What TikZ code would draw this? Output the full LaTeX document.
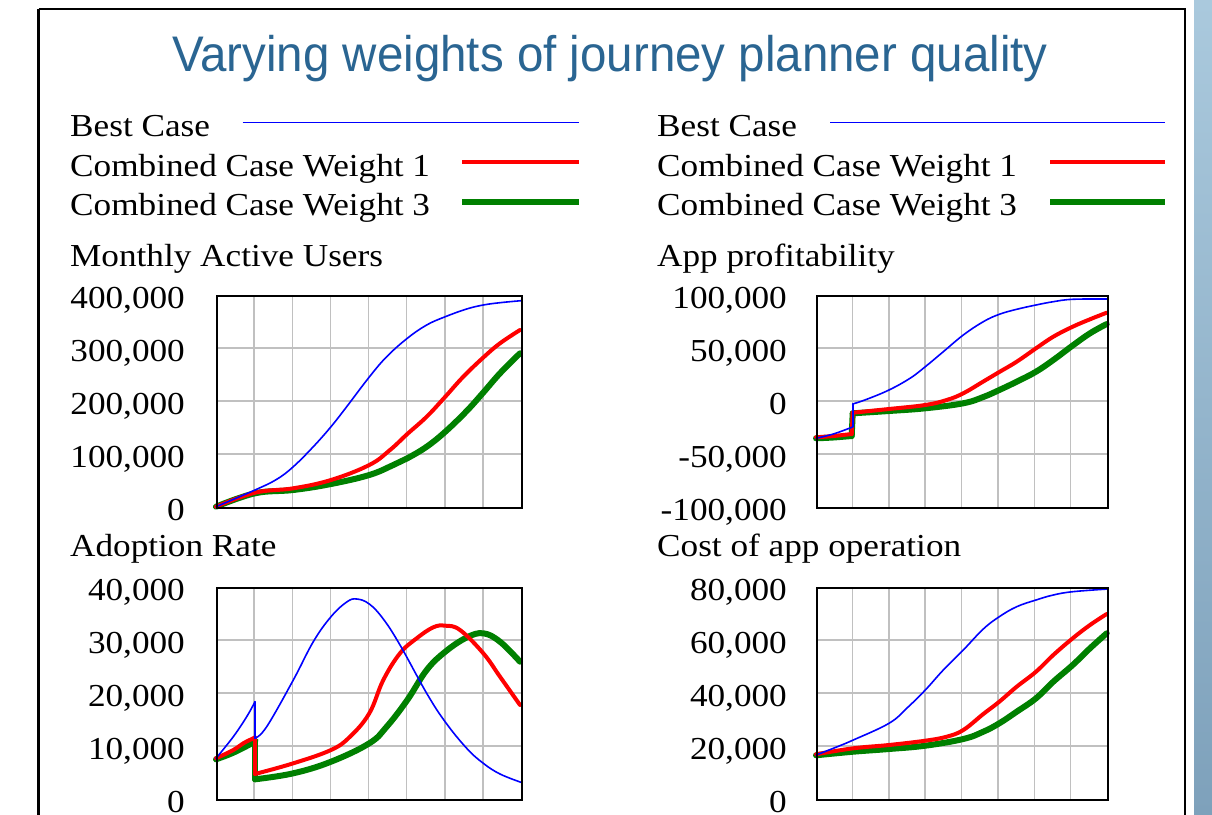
\documentclass[tikz,border=0pt]{standalone}
\usepackage{fontspec}
\setmainfont{Liberation Serif}[FakeStretch=1.1]
\newfontfamily\titlefont{Liberation Sans}[FakeStretch=0.95]
\definecolor{titleblue}{RGB}{42,101,146}
\definecolor{gridgray}{RGB}{192,192,192}
\definecolor{cgreen}{RGB}{0,128,0}
\definecolor{cblue}{RGB}{0,0,255}
\definecolor{cred}{RGB}{255,0,0}
\definecolor{bartop}{RGB}{170,201,221}
\definecolor{barbot}{RGB}{126,161,187}
\begin{document}
\begin{tikzpicture}[x=1bp,y=-1bp,
  lbl/.style={font=\fontsize{32bp}{38bp}\selectfont, inner sep=0pt, anchor=base west},
  ticklbl/.style={font=\fontsize{32bp}{38bp}\selectfont, inner sep=0pt, anchor=base east},
  gridln/.style={draw=gridgray, line width=1.5bp},
  pframe/.style={draw=black, line width=1.6bp},
  bestc/.style={draw=cblue, line width=1.6bp, line join=round, line cap=round},
  wonec/.style={draw=cred, line width=4bp, line join=round, line cap=round},
  wthreec/.style={draw=cgreen, line width=6bp, line join=round, line cap=round},
  sm/.style={smooth, tension=0.65}]
\useasboundingbox (0,0) rectangle (1212,815);
\fill[white] (0,0) rectangle (1212,815);
\shade[top color=bartop, bottom color=barbot] (1194,0) rectangle (1212,815);
\draw[line width=2.5bp] (38.5,9) -- (1185,9) -- (1185,830);
\draw[line width=2.5bp] (38.5,9) -- (38.5,830);

% title
\node[font=\titlefont\fontsize{50bp}{60bp}\selectfont, text=titleblue, inner sep=0pt, anchor=base] (title) at (610,72) {Varying weights of journey planner quality};

% legends
\foreach \lx/\nm in {70/L, 657/R}{
  \node[lbl] (best\nm) at (\lx,136) {Best Case};
  \node[lbl] (wone\nm) at (\lx,176) {Combined Case Weight 1};
  \node[lbl] (wthree\nm) at (\lx,215) {Combined Case Weight 3};
}
\coordinate (bLs) at (242.5,122.6); \coordinate (bLe) at (579,122.6);
\coordinate (rLs) at (462,162); \coordinate (rLe) at (579,162);
\coordinate (gLs) at (462,202); \coordinate (gLe) at (579,202);
\coordinate (bRs) at (830,122.6); \coordinate (bRe) at (1165,122.6);
\coordinate (rRs) at (1050,162); \coordinate (rRe) at (1165,162);
\coordinate (gRs) at (1050,202); \coordinate (gRe) at (1165,202);
\draw[bestc, line cap=butt] (bLs) -- (bLe);
\draw[wonec, line cap=butt] (rLs) -- (rLe);
\draw[wthreec, line cap=butt] (gLs) -- (gLe);
\draw[bestc, line cap=butt] (bRs) -- (bRe);
\draw[wonec, line cap=butt] (rRs) -- (rRe);
\draw[wthreec, line cap=butt] (gRs) -- (gRe);

% panel titles
\node[lbl] (mau) at (70,266) {Monthly Active Users};
\node[lbl] (prof) at (657,266) {App profitability};
\node[lbl] (adopt) at (70,556) {Adoption Rate};
\node[lbl] (cost) at (657,556) {Cost of app operation};

% tick labels
\node[ticklbl] (t1a) at (185,308) {400,000};
\node[ticklbl] (t1b) at (185,361) {300,000};
\node[ticklbl] (t1c) at (185,414) {200,000};
\node[ticklbl] (t1d) at (185,467) {100,000};
\node[ticklbl] (t1e) at (185,520) {0};
\node[ticklbl] (t2a) at (787,308) {100,000};
\node[ticklbl] (t2b) at (787,361) {50,000};
\node[ticklbl] (t2c) at (787,414) {0};
\node[ticklbl] (t2d) at (787,467) {-50,000};
\node[ticklbl] (t2e) at (787,520) {-100,000};
\node[ticklbl] (t3a) at (185,600) {40,000};
\node[ticklbl] (t3b) at (185,653) {30,000};
\node[ticklbl] (t3c) at (185,706) {20,000};
\node[ticklbl] (t3d) at (185,759) {10,000};
\node[ticklbl] (t3e) at (185,812) {0};
\node[ticklbl] (t4a) at (787,600) {80,000};
\node[ticklbl] (t4b) at (787,653) {60,000};
\node[ticklbl] (t4c) at (787,706) {40,000};
\node[ticklbl] (t4d) at (787,759) {20,000};
\node[ticklbl] (t4e) at (787,812) {0};

% grids
\foreach \top in {295,587}{
  \foreach \i in {1,...,7} \draw[gridln] ({216+38.125*\i},\top) -- ({216+38.125*\i},\top+212);
  \foreach \j in {1,2,3} \draw[gridln] (216,{\top+53*\j}) -- (521,{\top+53*\j});
  \foreach \i in {1,...,7} \draw[gridln] ({816+36.375*\i},\top) -- ({816+36.375*\i},\top+212);
  \foreach \j in {1,2,3} \draw[gridln] (816,{\top+53*\j}) -- (1107,{\top+53*\j});
}

% ---- Plot 1: Monthly Active Users
\draw[wthreec] plot[sm] coordinates {(216,506.7) (255,493.3) (293.3,490) (331,484) (369.3,475) (393.3,465) (407.3,458.3) (426.7,446.7) (445.3,431.7) (466.7,411) (483.3,392.5) (500,373.3) (520,353.3)};
\draw[wonec] plot[sm] coordinates {(216,506.7) (255,492.7) (293.3,488.3) (331,480) (369.3,465) (390,450) (407.3,434) (426.7,416.7) (445.3,396.7) (463.3,376.7) (483.3,357.5) (500,343.3) (520,330)};
\draw[bestc] plot[sm] coordinates {(216,506.7) (255,490) (276.7,479.3) (293.3,466.7) (313.3,446.7) (331,426.7) (346.7,406.7) (369.3,377) (386.7,356.7) (407.3,338.3) (426.7,325) (445.3,316.7) (466.7,309) (483.3,305) (500,302.7) (521,300.7)};

% ---- Plot 2: App profitability
\draw[wthreec] plot[sm] coordinates {(816,438.3) (833.3,437.5) (851.7,436)};
\draw[wthreec] (851.7,436) -- (852.7,413.3);
\draw[wthreec] plot[sm] coordinates {(852.7,413.3) (889,411) (925.3,408.3) (963.3,403.3) (983.3,397) (999.3,390) (1016.7,381.7) (1036,371.7) (1053.3,360) (1072.7,345.5) (1090,333.3) (1106.7,324)};
\draw[wonec] plot[sm] coordinates {(816,437.3) (833.3,436) (851.7,434)};
\draw[wonec] (851.7,434) -- (852.7,412.7);
\draw[wonec] plot[sm] coordinates {(852.7,412.7) (889,409) (925.3,405) (946.7,400) (963.3,393.3) (983.3,381.5) (999.3,372) (1016.7,361.7) (1036,348.3) (1053.3,336.7) (1072.7,326.7) (1090,319.3) (1106.7,312.7)};
\draw[bestc] plot[sm] coordinates {(816,438.3) (833.3,434) (850,428) (852.7,426.7)};
\draw[bestc] (852.7,426.7) -- (852.7,404);
\draw[bestc] plot[sm] coordinates {(852.7,404) (866.7,399.3) (889,390) (910,378.3) (925.3,366.7) (943.3,351.7) (963.3,335) (983.3,321.7) (999.3,314.3) (1016.7,309.3) (1036,305) (1053.3,301.7) (1072.7,299.3) (1108,299)};

% ---- Plot 3: Adoption Rate
\draw[wthreec] plot[sm] coordinates {(216,759.3) (233.3,752.7) (253.3,742.5) (255,741)};
\draw[wthreec] (255,741) -- (255,779.3);
\draw[wthreec] plot[sm] coordinates {(255,779.3) (293.3,773.3) (331,761.7) (369.3,743.3) (386.7,726.7) (407.3,700) (426.7,670) (445.3,651.7) (466.7,637.5) (483.3,633.3) (500,641.7) (520,661.7)};
\draw[wonec] plot[sm] coordinates {(216,758.3) (233.3,750) (243.3,743.3) (253.3,738.3) (255,737.5)};
\draw[wonec] (255,737.5) -- (255,774);
\draw[wonec] plot[sm] coordinates {(255,774) (293.3,763.3) (331,750) (350,736.7) (369.3,713.3) (383.3,680) (400,653.3) (416.7,638.3) (433.3,627.3) (445.3,625.7) (460,630) (483.3,653.3) (500,676.7) (520,705)};
\draw[bestc] plot[sm] coordinates {(216,758.3) (233.3,736.7) (246.7,716.7) (255,701.7)};
\draw[bestc] (255,701.7) -- (255,738.3);
\draw[bestc] plot[sm] coordinates {(255,738.3) (266.7,726.7) (293.3,680) (313.3,641.7) (331,616.7) (346.7,602) (356.7,599) (369.3,604) (383.3,619) (400,645) (426.7,693.3) (445.3,722) (466.7,748.3) (483.3,763.3) (500,774) (521,782.3)};

% ---- Plot 4: Cost of app operation
\draw[wthreec] plot[sm] coordinates {(816,755.3) (853.3,751.7) (889,749) (925.3,745.7) (963.3,739) (983.3,731.7) (999.3,723.3) (1016.7,711.7) (1036,698.3) (1053.3,681.7) (1072.7,665) (1090,648.3) (1106.7,633.3)};
\draw[wonec] plot[sm] coordinates {(816,754.3) (853.3,748.3) (889,745) (925.3,740.7) (946.7,736.7) (963.3,730) (983.3,714) (999.3,701.7) (1016.7,686.7) (1036,671.7) (1053.3,655) (1072.7,638.3) (1090,625) (1106.7,614)};
\draw[bestc] plot[sm] coordinates {(816,755) (833.3,748.3) (853.3,740) (889,723.3) (906.7,708.3) (925.3,690) (943.3,670) (963.3,650) (983.3,629) (999.3,616.7) (1016.7,606.7) (1036,600) (1053.3,595) (1072.7,591.7) (1108,589)};

% plot frames
\node[pframe, inner sep=0pt, minimum width=305bp, minimum height=212bp, anchor=north west] (p1) at (216,295) {};
\node[pframe, inner sep=0pt, minimum width=291bp, minimum height=212bp, anchor=north west] (p2) at (816,295) {};
\node[pframe, inner sep=0pt, minimum width=305bp, minimum height=212bp, anchor=north west] (p3) at (216,587) {};
\node[pframe, inner sep=0pt, minimum width=291bp, minimum height=212bp, anchor=north west] (p4) at (816,587) {};
\end{tikzpicture}
\end{document}
